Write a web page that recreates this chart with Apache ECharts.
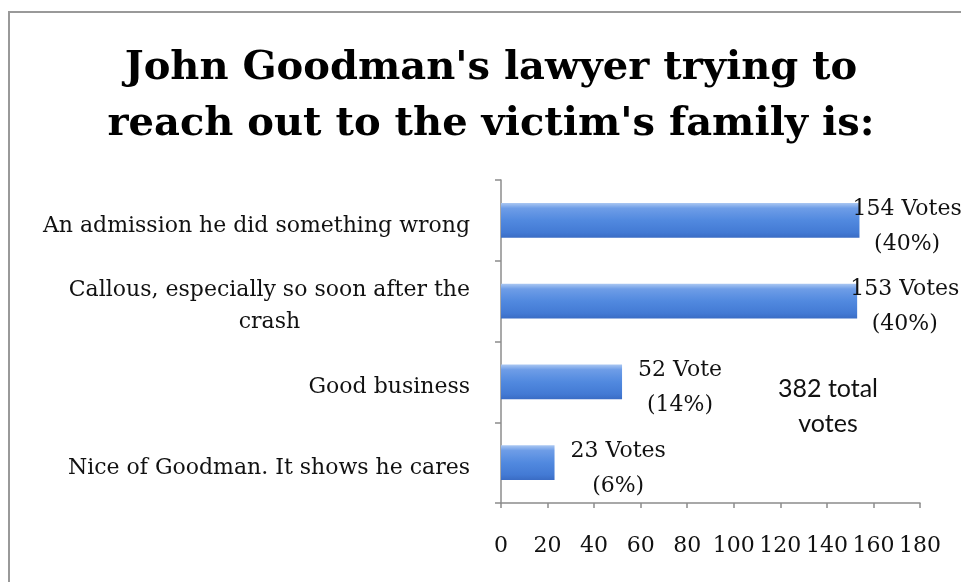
<!DOCTYPE html>
<html>
<head>
<meta charset="utf-8">
<script src="https://cdn.jsdelivr.net/npm/echarts@6/dist/echarts.min.js"></script>
<style>
  html, body { margin: 0; padding: 0; background: #fff; }
  #chart { width: 961px; height: 582px; }
</style>
</head>
<body>
<div id="chart"></div>
<script>
// Poll question and answers
const titleText = "John Goodman's lawyer trying to\nreach out to the victim's family is:";
const categories = [
  'An admission he did something wrong',
  'Callous, especially so soon after the\ncrash',
  'Good business',
  'Nice of Goodman. It shows he cares'
];
const votes = [154, 153, 52, 23];
const voteWords = ['Votes', 'Votes', 'Vote', 'Votes'];
const totalVotes = 382;
const xTickValues = [0, 20, 40, 60, 80, 100, 120, 140, 160, 180];

const serif = '"DejaVu Serif", "Liberation Serif", serif';
const axisGray = '#8c8c8c';
const textSize = 22;

const barGradient = new echarts.graphic.LinearGradient(0, 0, 0, 1, [
  { offset: 0, color: '#aac7f2' },
  { offset: 0.15, color: '#6e9de7' },
  { offset: 0.5, color: '#5189df' },
  { offset: 0.85, color: '#437ad4' },
  { offset: 1, color: '#3a6cc4' }
]);

const barData = votes.map(function (v) {
  // long bars: the label is pulled back over the bar end so it fits
  return { value: v, label: { distance: v > 150 ? -7 : 16 } };
});

const chart = echarts.init(document.getElementById('chart'), null, { renderer: 'canvas' });

chart.setOption({
  backgroundColor: '#ffffff',
  animation: false,
  title: {
    text: titleText,
    left: 486,
    textAlign: 'center',
    top: 36,
    textStyle: {
      fontFamily: serif,
      fontWeight: 'bold',
      fontSize: 40,
      lineHeight: 56,
      color: '#000'
    }
  },
  graphic: [
    {
      type: 'rect',
      silent: true,
      shape: { x: 9, y: 12, width: 1000, height: 1000 },
      style: { fill: null, stroke: '#999999', lineWidth: 2 }
    },
    {
      type: 'text',
      silent: true,
      x: 828,
      y: 406,
      style: {
        text: totalVotes + ' total\nvotes',
        fontFamily: 'Lato, "Open Sans", sans-serif',
        fontSize: 25,
        lineHeight: 35,
        align: 'center',
        verticalAlign: 'middle',
        fill: '#111'
      }
    }
  ],
  grid: { left: 501, top: 180, right: 41, bottom: 79, containLabel: false },
  xAxis: {
    type: 'value',
    min: xTickValues[0],
    max: xTickValues[xTickValues.length - 1],
    interval: xTickValues[1] - xTickValues[0],
    splitLine: { show: false },
    axisLine: { show: true, lineStyle: { color: axisGray, width: 1.5 } },
    axisTick: { show: true, length: 5, lineStyle: { color: axisGray, width: 1.5 } },
    axisLabel: {
      margin: 32,
      fontFamily: serif,
      fontSize: textSize,
      color: '#111'
    }
  },
  yAxis: {
    type: 'category',
    inverse: true,
    data: categories,
    axisLine: { show: true, lineStyle: { color: axisGray, width: 1.5 } },
    axisTick: { show: true, length: 6, alignWithLabel: false, lineStyle: { color: axisGray, width: 1.5 } },
    axisLabel: {
      margin: 31,
      align: 'right',
      padding: [11, 0, 0, 0],
      fontFamily: serif,
      fontSize: textSize,
      color: '#111',
      lineHeight: 32,
      formatter: function (name) {
        return name.split('\n').map(function (line, i) {
          return (i === 0 ? '{a|' : '{b|') + line + '}';
        }).join('\n');
      },
      rich: {
        a: { fontFamily: serif, fontSize: textSize, color: '#111', lineHeight: 32 },
        b: { fontFamily: serif, fontSize: textSize, color: '#111', lineHeight: 32, align: 'center' }
      }
    }
  },
  series: [
    {
      type: 'bar',
      data: barData,
      barWidth: '43%',
      itemStyle: { color: barGradient },
      label: {
        show: true,
        position: 'right',
        offset: [0, 6],
        formatter: function (p) {
          const pct = Math.round(p.value / totalVotes * 100);
          return '{v|' + p.value + ' ' + voteWords[p.dataIndex] + '}\n{p|(' + pct + '%)}';
        },
        rich: {
          v: { fontFamily: serif, fontSize: textSize, color: '#111', lineHeight: 35, align: 'center' },
          p: { fontFamily: serif, fontSize: textSize, color: '#111', lineHeight: 35, align: 'center' }
        }
      }
    }
  ]
});
</script>
</body>
</html>
